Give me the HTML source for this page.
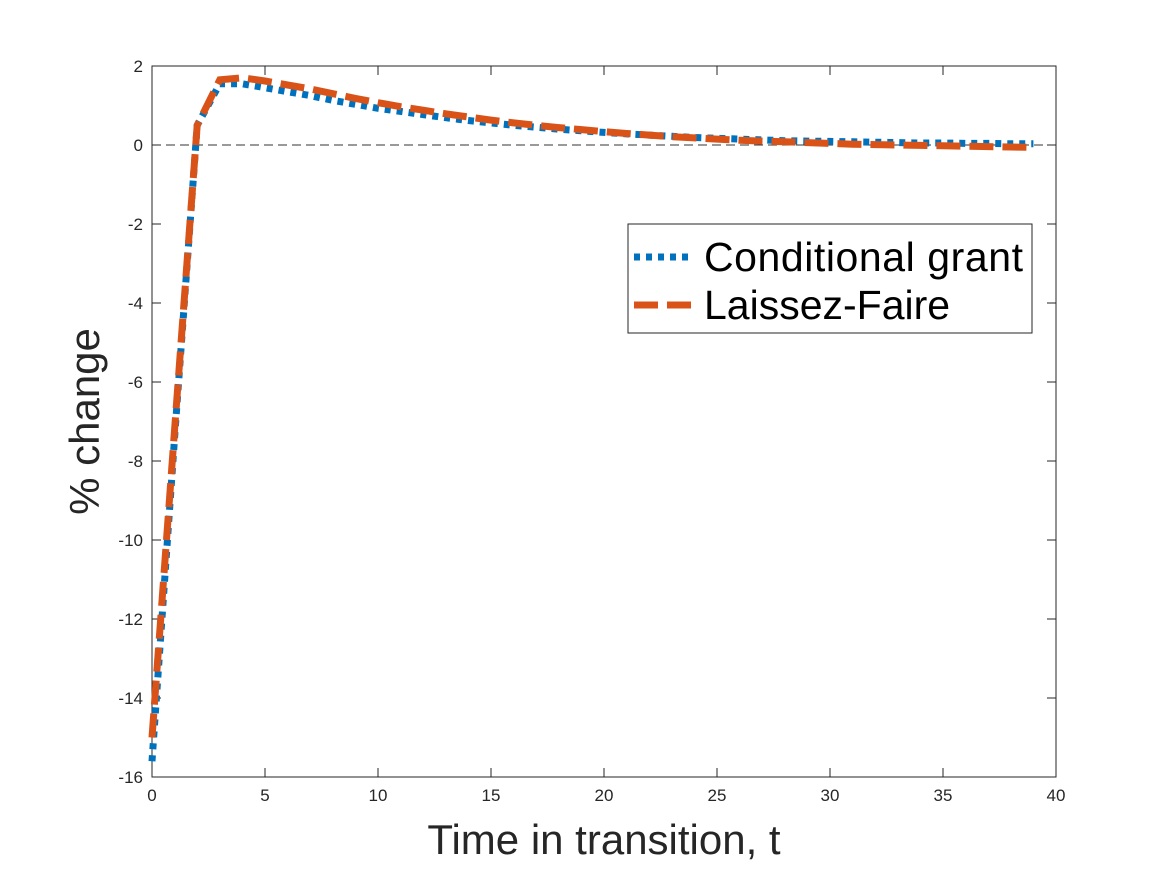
<!DOCTYPE html>
<html><head><meta charset="utf-8"><style>
body{margin:0;background:#fff;}
svg{display:block;font-family:"Liberation Sans",sans-serif;}
</style></head><body>
<svg id="chart" width="1167" height="875"></svg>
<script>
const tValues=[...Array(40).keys()];
const conditionalGrant=[-15.6,-7.4,0.5,1.55,1.55,1.45,1.35,1.25,1.13,1.03,0.93,0.85,0.77,0.69,0.62,0.56,0.50,0.45,0.40,0.36,0.32,0.28,0.25,0.22,0.19,0.17,0.15,0.13,0.11,0.10,0.09,0.08,0.07,0.06,0.05,0.05,0.04,0.04,0.03,0.03];
const laissezFaire=[-15.0,-7.2,0.5,1.65,1.7,1.62,1.52,1.42,1.30,1.18,1.07,0.97,0.88,0.79,0.71,0.63,0.56,0.50,0.44,0.39,0.34,0.29,0.25,0.21,0.18,0.15,0.12,0.10,0.08,0.06,0.04,0.02,0.01,0.0,-0.01,-0.02,-0.03,-0.04,-0.05,-0.06];
const xTicks=[0,5,10,15,20,25,30,35,40];
const yTicks=[2,0,-2,-4,-6,-8,-10,-12,-14,-16];
const L=152,R=1056,T=66,B=777;
const xs=v=>L+(v-0)/40*(R-L);
const ys=v=>T+(2-v)/18*(B-T);
const svg=document.getElementById('chart');
const NS='http://www.w3.org/2000/svg';
function mk(tag,attrs,parent){const e=document.createElementNS(NS,tag);for(const k in attrs)e.setAttribute(k,attrs[k]);(parent||svg).appendChild(e);return e;}
let bg=mk('rect',{x:L,y:T,width:R-L,height:B-T,fill:'#fff',stroke:'#262626','stroke-width':1});


let zl=mk('line',{x1:L,x2:R,y1:ys(0),y2:ys(0),stroke:'#333','stroke-width':1,'stroke-dasharray':'9,5'});


xTicks.forEach(v=>{
  const x=xs(v);
  mk('line',{x1:x,x2:x,y1:B,y2:B-9,stroke:'#262626'});
  mk('line',{x1:x,x2:x,y1:T,y2:T+9,stroke:'#262626'});
  const t=mk('text',{x:x,y:B+24,'text-anchor':'middle','font-size':17,fill:'#262626'});
  t.textContent=v;
  
  
});
yTicks.forEach(v=>{
  const y=ys(v);
  mk('line',{x1:L,x2:L+9,y1:y,y2:y,stroke:'#262626'});
  mk('line',{x1:R,x2:R-9,y1:y,y2:y,stroke:'#262626'});
  const t=mk('text',{x:L-9,y:y+6,'text-anchor':'end','font-size':17,fill:'#262626'});
  t.textContent=v;
  
  
});
function path(arr){return arr.map((v,i)=>(i?'L':'M')+xs(tValues[i]).toFixed(1)+','+ys(v).toFixed(1)).join(' ');}
let p1=mk('path',{d:path(conditionalGrant),fill:'none',stroke:'#0072BD','stroke-width':7,'stroke-dasharray':'6,6'});


let p2=mk('path',{d:path(laissezFaire),fill:'none',stroke:'#D95319','stroke-width':7,'stroke-dasharray':'24,9'});


let xl=mk('text',{x:(L+R)/2,y:854,'text-anchor':'middle','font-size':42,fill:'#262626'});
xl.textContent='Time in transition, t';


let yl=mk('text',{x:99,y:(T+B)/2,'text-anchor':'middle','font-size':42,fill:'#262626',transform:`rotate(-90 99 ${(T+B)/2})`});
yl.textContent='% change';


let lg=mk('g',{});


mk('rect',{x:628,y:224,width:404,height:109,fill:'#fff',stroke:'#262626','stroke-width':1},lg);
let e1=mk('line',{x1:634,x2:694,y1:257,y2:257,stroke:'#0072BD','stroke-width':7,'stroke-dasharray':'6,6'},lg);


let t1=mk('text',{x:704,y:271,'font-size':41,fill:'#000',textLength:319},lg);
t1.textContent='Conditional grant';


let e2=mk('line',{x1:634,x2:694,y1:305,y2:305,stroke:'#D95319','stroke-width':7,'stroke-dasharray':'24,9'},lg);


let t2=mk('text',{x:704,y:319,'font-size':41,fill:'#000'},lg);
t2.textContent='Laissez-Faire';


</script>
</body></html>
